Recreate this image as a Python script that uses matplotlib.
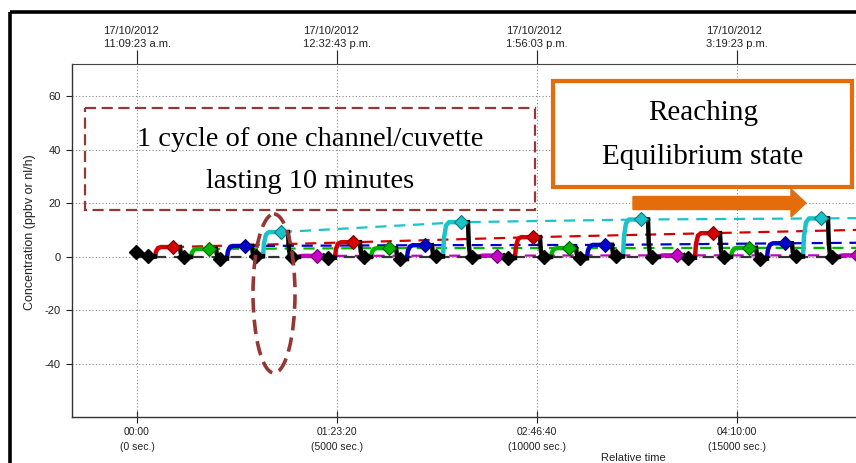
"""Concentration trace of the cuvette channels, with cycle and equilibrium notes."""

import matplotlib

matplotlib.use("Agg")

import matplotlib.pyplot as plt
import numpy as np
from matplotlib import patches, transforms


W, H = 856, 463

# rise time (s) of each channel block, per cycle, and the plateau value (ppbv)
RED_RISE = [450, 4950, 9450, 13950]
RED_VALUE = [3.7, 5.5, 7.4, 8.9]
GREEN_RISE = [1350, 5850, 10350, 14850]
GREEN_VALUE = [3.0, 3.3, 3.3, 3.4]
BLUE_RISE = [2250, 6750, 11250, 15750]
BLUE_VALUE = [4.1, 4.4, 4.5, 5.1]
CYAN_RISE = [3150, 7650, 12150, 16650]
CYAN_VALUE = [9.3, 13.0, 14.0, 14.4]
MAGENTA_RISE = [4050, 8550, 13050, 17550]
MAGENTA_VALUE = [0.4, 0.5, 0.6, 0.6]

# value each dashed trend line reaches at the right edge
TREND_END_X = 17975
RED_END, GREEN_END, BLUE_END, CYAN_END, MAGENTA_END = 10.1, 3.4, 5.3, 14.5, 0.7

# zero/reference (black) readings
BLACK_START_X = [-25, 275, 450]
BLACK_START_Y = [1.9, 0.3, 0.2]
BLACK_LEVEL = [0.0, -0.6, 0.3, 0.0, -0.3, 0.0, -0.8, 0.2, 0.0, -0.4,
               0.0, -0.5, 0.2, 0.0, -0.3, 0.0, -0.6, 0.2, 0.0, -0.3]

X_TICKS = [0, 5000, 10000, 15000]
BOTTOM_LABELS = ["00:00\n(0 sec.)", "01:23:20\n(5000 sec.)",
                 "02:46:40\n(10000 sec.)", "04:10:00\n(15000 sec.)"]
TOP_LABELS = ["17/10/2012\n11:09:23 a.m.", "17/10/2012\n12:32:43 p.m.",
              "17/10/2012\n1:56:03 p.m.", "17/10/2012\n3:19:23 p.m."]
Y_TICKS = [-40, -20, 0, 20, 40, 60]

# shape of one measurement block (offsets from the rise, fraction of plateau)
BLOCK_DT = [0, 25, 75, 150, 450, 625]
BLOCK_FRAC = [0.0, 0.55, 0.9, 1.0, 1.0, 1.0]
MARK_DT = 450

BROWN = "#953735"
ORANGE = "#E46C0A"
SANS = ["Liberation Sans", "DejaVu Sans"]
SERIF = ["Liberation Serif", "DejaVu Serif"]


def channels():
    return [
        ("#d40000", "#7a0000", RED_RISE, RED_VALUE, RED_END),
        ("#00b400", "#006400", GREEN_RISE, GREEN_VALUE, GREEN_END),
        ("#0000c8", "#000070", BLUE_RISE, BLUE_VALUE, BLUE_END),
        ("#19c3c8", "#0a7a80", CYAN_RISE, CYAN_VALUE, CYAN_END),
        ("#c800c8", "#700070", MAGENTA_RISE, MAGENTA_VALUE, MAGENTA_END),
    ]


def block_trace(rises, values):
    xs, ys = [], []
    for r, v in zip(rises, values):
        xs += [r + dt for dt in BLOCK_DT] + [np.nan]
        ys += [v * f for f in BLOCK_FRAC] + [np.nan]
    return xs, ys


def main() -> None:
    plt.rcParams["font.family"] = SANS
    plt.rcParams["axes.unicode_minus"] = False
    fig = plt.figure(figsize=(W / 100, H / 100), dpi=100)
    ax = fig.add_axes([72 / W, 1 - 417 / H, (W - 72) / W, (417 - 64) / H])
    ax.set_xlim(-1625, 17975)
    ax.set_ylim(-59.8, 72.1)

    # dashed trend lines through the plateau values
    for color, _, rises, values, end in channels():
        tx = [r + MARK_DT for r in rises] + [TREND_END_X]
        ty = list(values) + [end]
        ax.plot(tx, ty, color=color, lw=1.6, dashes=(5, 3.5), zorder=2)
    ax.plot([BLACK_START_X[0], TREND_END_X], [0, 0], color="#333333", lw=1.6,
            dashes=(5, 3.5), zorder=2)

    # coloured measurement blocks
    for color, edge, rises, values, _ in channels():
        xs, ys = block_trace(rises, values)
        ax.plot(xs, ys, color=color, lw=3.2, solid_capstyle="round",
                solid_joinstyle="round", zorder=3)

    # black reference trace: drop after each block, then flat until next rise
    blocks = sorted(
        (r, v) for _, _, rises, values, _ in channels() for r, v in zip(rises, values)
    )
    bx, by = list(BLACK_START_X), list(BLACK_START_Y)
    ax.plot(bx, by, color="black", lw=3.2, zorder=4)
    mark_x, mark_y = [BLACK_START_X[0], BLACK_START_X[1]], [BLACK_START_Y[0], BLACK_START_Y[1]]
    for (r, v), level in zip(blocks, BLACK_LEVEL):
        ax.plot([r + 625, r + 645, r + 680, r + 900],
                [v, 0.35 * v, level, level], color="black", lw=3.2,
                solid_joinstyle="round", zorder=4)
        mark_x.append(r + 725)
        mark_y.append(level)

    for color, edge, rises, values, _ in channels():
        ax.plot([r + MARK_DT for r in rises], values, ls="none", marker="D",
                ms=7.5, mfc=color, mec=edge, mew=0.8, zorder=5)
    ax.plot(mark_x, mark_y, ls="none", marker="D", ms=7.5, mfc="black",
            mec="black", zorder=5)

    # axes styling
    ax.set_xticks(X_TICKS)
    ax.set_xticklabels(BOTTOM_LABELS, linespacing=1.55)
    ax.set_yticks(Y_TICKS)
    ax.grid(True, color="#8a8a8a", lw=0.8, linestyle=(0, (1, 2)))
    ax.tick_params(axis="x", direction="inout", length=9, pad=3, labelsize=7.5,
                   colors="#222222")
    ax.tick_params(axis="y", direction="out", length=4, pad=4, labelsize=8,
                   colors="#222222")
    for side in ("top", "right"):
        ax.spines[side].set_visible(False)
    for side in ("left", "bottom"):
        ax.spines[side].set_color("#333333")
        ax.spines[side].set_linewidth(1.0)

    top = ax.twiny()
    top.set_xlim(ax.get_xlim())
    top.set_xticks(X_TICKS)
    top.set_xticklabels(TOP_LABELS, linespacing=1.3, ha="center", multialignment="left")
    top.tick_params(axis="x", direction="out", length=10, pad=1, labelsize=8,
                    colors="#222222")
    for side in ("left", "right", "bottom"):
        top.spines[side].set_visible(False)
    top.spines["top"].set_color("#444444")

    fig.text(30 / W, 1 - 232 / H, "Concentration (ppbv or nl/h)", rotation=90,
             ha="center", va="center", fontsize=9, color="#222222")
    fig.text(633 / W, 1 - 458 / H, "Relative time", ha="center", va="center",
             fontsize=8, color="#222222")

    # annotations, placed in pixel coordinates of the picture (y down)
    px = transforms.Affine2D().scale(1 / W, -1 / H).translate(0, 1) + fig.transFigure

    fig.add_artist(patches.Rectangle((10, 12), 900, 500, transform=px, fill=False,
                                     ec="black", lw=2.6, clip_on=False))
    fig.add_artist(patches.Rectangle((85, 108), 450, 102, transform=px, fill=False,
                                     ec=BROWN, lw=1.6, ls=(0, (5, 2.5)), zorder=6))
    fig.text(310 / W, 1 - 140 / H, "1 cycle of one channel/cuvette", family=SERIF,
             fontsize=20.5, ha="center", va="center")
    fig.text(310 / W, 1 - 181 / H, "lasting 10 minutes", family=SERIF,
             fontsize=20.5, ha="center", va="center")

    fig.add_artist(patches.Rectangle((553, 81), 299, 106, transform=px, fc="white",
                                     ec=ORANGE, lw=3.0, zorder=6))
    fig.text(703 / W, 1 - 113 / H, "Reaching", family=SERIF, fontsize=21,
             ha="center", va="center", zorder=7)
    fig.text(703 / W, 1 - 157 / H, "Equilibrium state", family=SERIF, fontsize=21,
             ha="center", va="center", zorder=7)
    fig.add_artist(patches.FancyArrow(633, 203, 173, 0, width=13, head_width=28,
                                      head_length=15, length_includes_head=True,
                                      transform=px, color=ORANGE, zorder=6))

    fig.add_artist(patches.Ellipse((274, 293.5), 42, 159, transform=px, fill=False,
                                   ec=BROWN, lw=2.6, ls=(0, (4, 2)), zorder=6))

    fig.savefig("out.png", dpi=100)
    plt.close(fig)


if __name__ == "__main__":
    main()
